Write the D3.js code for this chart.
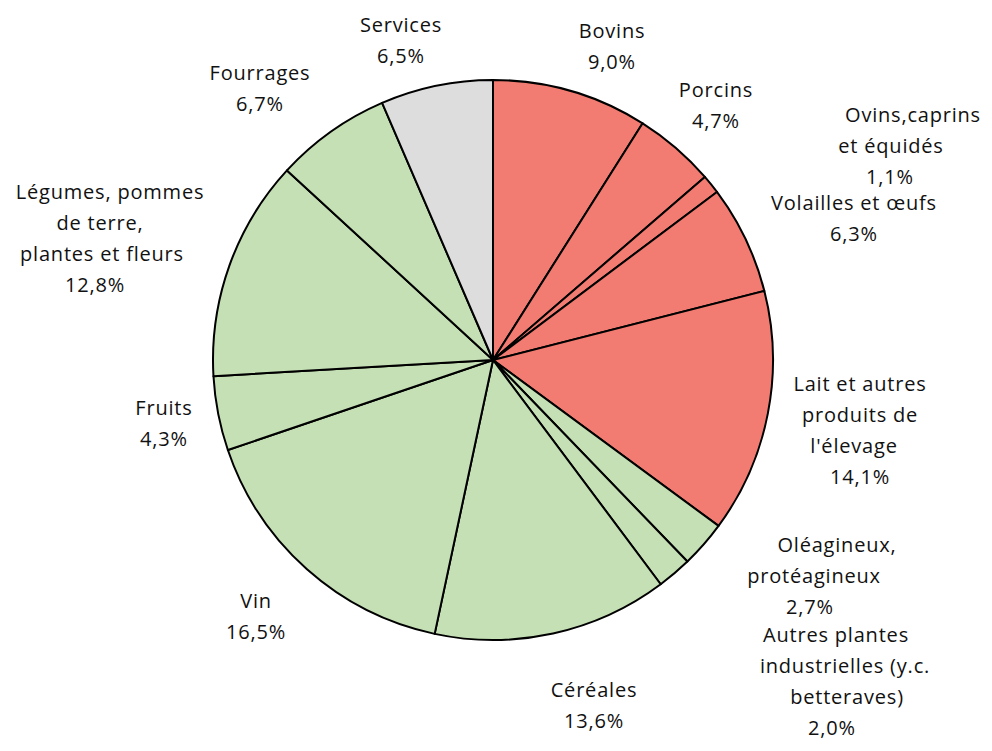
<!DOCTYPE html>
<html>
<head>
<meta charset="utf-8">
<script src="https://cdn.jsdelivr.net/npm/d3@7"></script>
<style>
  html, body { margin: 0; padding: 0; background: #fff; }
  text { font-family: "Open Sans", "Liberation Sans", sans-serif; font-size: 20px; letter-spacing: 0.8px; fill: #111; }
</style>
</head>
<body>
<svg id="chart" width="992" height="751"></svg>
<script>
// Repartition de la production agricole (en %)
var categories = [
    "Bovins", "Porcins", "Ovins, caprins et équidés", "Volailles et œufs",
    "Lait et autres produits de l'élevage", "Oléagineux, protéagineux",
    "Autres plantes industrielles (y.c. betteraves)", "Céréales", "Vin",
    "Fruits", "Légumes, pommes de terre, plantes et fleurs", "Fourrages", "Services"
];
var values = [9.0, 4.7, 1.1, 6.3, 14.1, 2.7, 2.0, 13.6, 16.5, 4.3, 12.8, 6.7, 6.5];
var valueLabels = ["9,0%", "4,7%", "1,1%", "6,3%", "14,1%", "2,7%", "2,0%", "13,6%", "16,5%", "4,3%", "12,8%", "6,7%", "6,5%"];
var groups = ["animal", "animal", "animal", "animal", "animal", "vegetal", "vegetal",
    "vegetal", "vegetal", "vegetal", "vegetal", "vegetal", "services"];
// lignes de texte des etiquettes
var labelLines = [
    ["Bovins"], ["Porcins"], ["Ovins,caprins", "et équidés"], ["Volailles et œufs"],
    ["Lait et autres", "produits de", "l'élevage"], ["Oléagineux,", "protéagineux"],
    ["Autres plantes", "industrielles (y.c.", "betteraves)"], ["Céréales"], ["Vin"],
    ["Fruits"], ["Légumes, pommes", "de terre,", "plantes et fleurs"], ["Fourrages"], ["Services"]
];

var width = 992,
    height = 751,
    cx = 493,
    cy = 360,
    radius = 280,
    lineHeight = 31;

var color = d3.scaleOrdinal()
    .domain(["animal", "vegetal", "services"])
    .range(["#F37C72", "#C5E0B4", "#DDDDDD"]);

// position (centre de la premiere ligne) de chaque etiquette
var labelPos = [
    [612, 31], [716, 90], [913, 115], [854, 203], [860, 384], [816, 545],
    [838, 635], [594, 690], [256, 601], [164, 408], [108, 192], [260, 73], [401, 25]
];
// alignement horizontal par ligne (decalage du centre)
var lineShift = [
    [0], [0], [0, -22, -23], [0], [0, 0, -6, 0], [21, -2, -6],
    [-2, 7, 9, -6], [0], [0], [0], [2, -8, -6, -13], [0], [0]
];

var svg = d3.select("#chart");

var pie = d3.pie()
    .sort(null)
    .value(function (d) { return d; });

var arc = d3.arc()
    .innerRadius(0)
    .outerRadius(radius);

var data = pie(values);

var g = svg.append("g")
    .attr("transform", "translate(" + cx + "," + cy + ")");

g.selectAll(".slice")
    .data(data)
    .enter().append("path")
    .attr("class", "slice")
    .attr("d", arc)
    .style("fill", function (d, i) { return color(groups[i]); })
    .style("stroke", "#000")
    .style("stroke-width", 2)
    .style("stroke-linejoin", "round");

// Etiquettes
var labels = svg.selectAll(".label")
    .data(data)
    .enter().append("text")
    .attr("class", "label")
    .attr("text-anchor", "middle");

labels.each(function (d, i) {
    var t = d3.select(this),
        pos = labelPos[i],
        lines = labelLines[i].concat([valueLabels[i]]);

    lines.forEach(function (line, j) {
        var shift = (lineShift[i][j] || 0);
        t.append("tspan")
            .attr("x", pos[0] + shift)
            .attr("y", pos[1] + j * lineHeight)
            .attr("dy", "0.35em")
            .text(line);
    });
});
</script>
</body>
</html>
